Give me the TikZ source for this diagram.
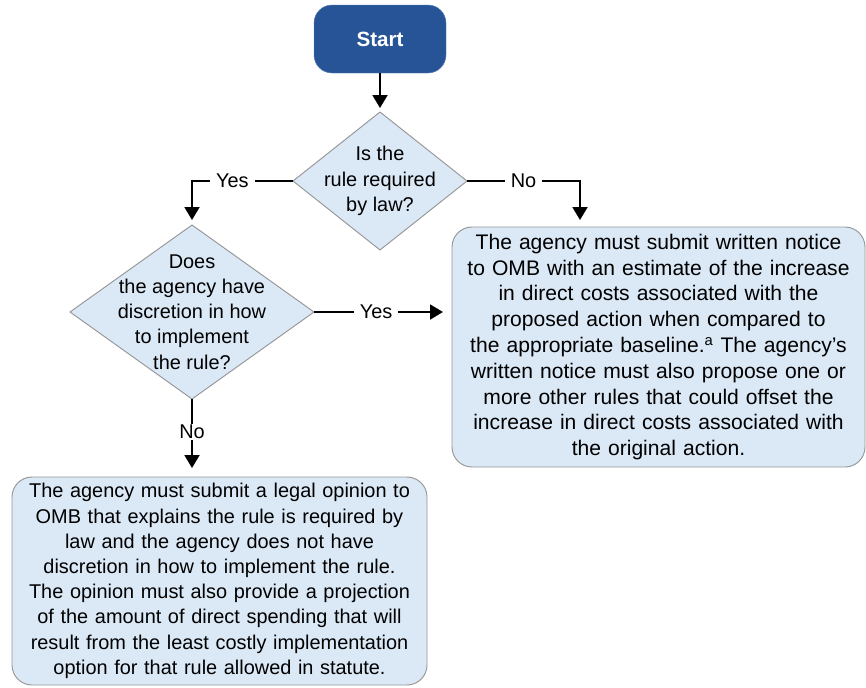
\documentclass[tikz,border=0pt]{standalone}
\usepackage{fontspec}
\setmainfont{Liberation Sans}
\usetikzlibrary{shapes.geometric,arrows.meta}
\newlength{\RuleChartPx}
\setlength{\RuleChartPx}{0.03cm}
\definecolor{StartBlue}{RGB}{38,84,150}
\definecolor{BoxBlue}{RGB}{219,232,246}
\definecolor{BoxEdge}{RGB}{150,150,150}

\tikzset{
	startbox/.style={rectangle, rounded corners=18\RuleChartPx, fill=StartBlue, draw=StartBlue!75, text=white,
		font=\fontsize{17.6}{22}\selectfont\bfseries, minimum width=132\RuleChartPx, minimum height=68\RuleChartPx},
	decision/.style={diamond, draw=BoxEdge, line width=0.8pt, fill=BoxBlue, inner sep=0pt, outer sep=0pt},
	qtext/.style={align=center, inner sep=0pt},
	outcome/.style={rectangle, rounded corners=20\RuleChartPx, draw=BoxEdge, line width=0.8pt, fill=BoxBlue,
		align=center, inner sep=0pt, outer sep=0pt},
	flow/.style={line width=1.6pt, -{Triangle[width=0.45cm,length=0.39cm]}},
	branch/.style={fill=white, inner xsep=5pt, inner ysep=1pt},
}

\begin{document}
\begin{tikzpicture}[x=0.03cm, y=-0.03cm, font=\fontsize{17}{21.5}\selectfont]
		\useasboundingbox (0,0) rectangle (866,687);
		% boxes
		\node[startbox] (start) at (380,39) {Start};
		\node[decision, minimum width=174\RuleChartPx, minimum height=138\RuleChartPx] (lawq) at (380,181) {};
		\node[qtext] (lawtext) at (lawq.center) {Is the\\rule required\\by law?};
		\node[decision, minimum width=244\RuleChartPx, minimum height=174\RuleChartPx] (discq) at (192,312) {};
		\node[qtext] (disctext) at (discq.center) {Does\\the agency have\\discretion in how\\to implement\\the rule?};
		\node[outcome, font=\fontsize{18}{22}\selectfont, minimum width=413\RuleChartPx, minimum height=240\RuleChartPx, text width=405\RuleChartPx] (notice) at (658.5,347)
			{The agency must submit written notice\\to OMB with an estimate of the increase\\in direct costs associated with the\\proposed action when compared to\\the appropriate baseline.\textsuperscript{a} The agency's\\written notice must also propose one or\\more other rules that could offset the\\increase in direct costs associated with\\the original action.};
		\node[outcome, minimum width=415\RuleChartPx, minimum height=208\RuleChartPx, text width=405\RuleChartPx] (opinion) at (219.5,581)
			{The agency must submit a legal opinion to\\OMB that explains the rule is required by\\law and the agency does not have\\discretion in how to implement the rule.\\The opinion must also provide a projection\\of the amount of direct spending that will\\result from the least costly implementation\\option for that rule allowed in statute.};
		% connectors
		\coordinate (yesturn) at (lawq.west -| discq.north);
		\coordinate (noturn) at (580,181);
		\draw[flow, shorten >=0.12cm] (start.south) -- (lawq.north);
		\draw[flow, shorten >=0.15cm] (lawq.west) -- node[branch, pos=0.6] {Yes} (yesturn) -- (discq.north);
		\draw[flow, shorten >=0.21cm] (lawq.east) -- node[branch] {No} (noturn) -- (noturn |- notice.north);
		\draw[flow, shorten >=0.27cm] (discq.east) -- node[branch, pos=0.45] {Yes} (discq.east -| notice.west);
		\draw[flow, shorten >=0.27cm] (discq.south) -- node[branch, pos=0.42] {No} (discq.south |- opinion.north);
	\end{tikzpicture}
\end{document}
